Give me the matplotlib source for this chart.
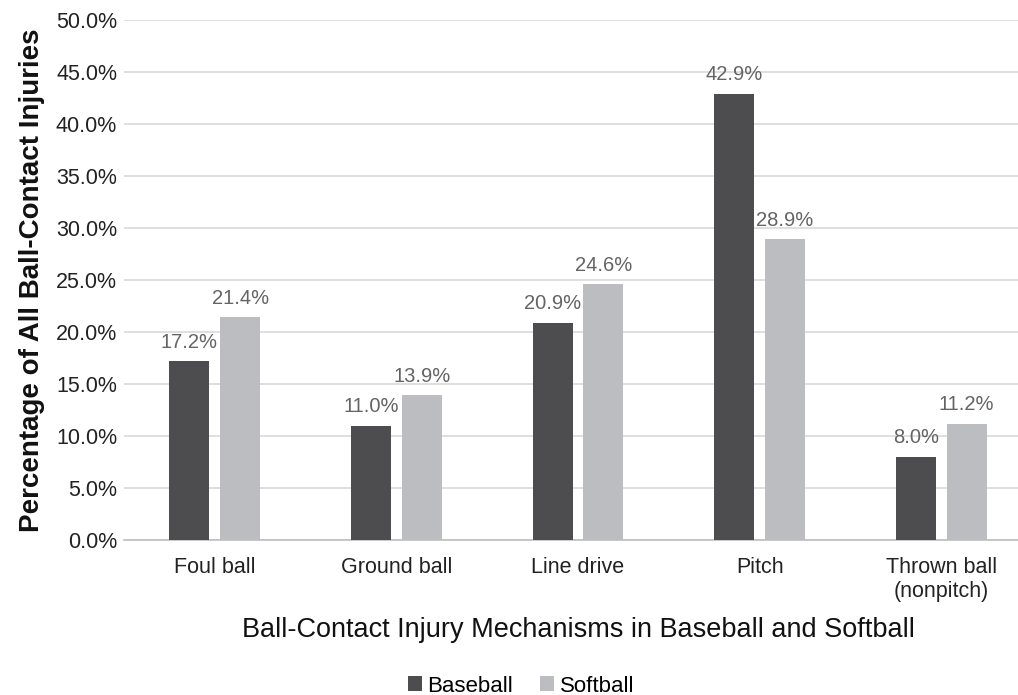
import numpy as np
import matplotlib.pyplot as plt

plt.rcParams['font.family'] = ['Liberation Sans', 'DejaVu Sans']

categories = ['Foul ball', 'Ground ball', 'Line drive', 'Pitch', 'Thrown ball\n(nonpitch)']
baseball = [17.2, 11.0, 20.9, 42.9, 8.0]
softball = [21.4, 13.9, 24.6, 28.9, 11.2]

dark = '#4d4d4f'
light = '#bcbdc1'
label_gray = '#646464'

fig = plt.figure(figsize=(10.18, 6.95), dpi=100)
ax = fig.add_axes([124 / 1018, 1 - 540 / 695, (1032 - 124) / 1018, 520 / 695])

x = np.arange(len(categories))
w = 0.22
b1 = ax.bar(x - 0.14, baseball, w, color=dark, label='Baseball', zorder=3)
b2 = ax.bar(x + 0.14, softball, w, color=light, label='Softball', zorder=3)

for bars, vals in [(b1, baseball), (b2, softball)]:
    for rect, v in zip(bars, vals):
        ax.text(rect.get_x() + rect.get_width() / 2, v + 0.9, f'{v:.1f}%',
                ha='center', va='bottom', fontsize=14.5, color=label_gray)

ax.set_xlim(-0.5, len(categories) - 0.5)
ax.set_ylim(0, 50)
ax.set_yticks(np.arange(0, 50.1, 5))
ax.set_yticklabels([f'{t:.1f}%' for t in np.arange(0, 50.1, 5)])
ax.set_xticks(x)
ax.set_xticklabels(categories)
ax.tick_params(axis='both', length=0, labelsize=15.5, colors='#222222')
ax.tick_params(axis='y', pad=5)
ax.tick_params(axis='x', pad=12)
ax.grid(axis='y', color='#d9d9d9', linewidth=1.2, zorder=0)
for s in ['top', 'right', 'left']:
    ax.spines[s].set_visible(False)
ax.spines['bottom'].set_color('#bfbfbf')
ax.spines['bottom'].set_linewidth(1.2)

ax.set_ylabel('Percentage of All Ball-Contact Injuries', fontsize=20,
              fontweight='bold', color='#111111', labelpad=8)
ax.set_xlabel('Ball-Contact Injury Mechanisms in Baseball and Softball',
              fontsize=19.5, color='#111111', labelpad=11)

fig.legend(handles=[b1, b2], loc='center', bbox_to_anchor=(521 / 1018, 1 - 686 / 695),
           ncol=2, frameon=False, fontsize=16, handlelength=0.65, handleheight=0.65,
           handletextpad=0.25, columnspacing=1.2)

fig.savefig('out.png', dpi=100)
